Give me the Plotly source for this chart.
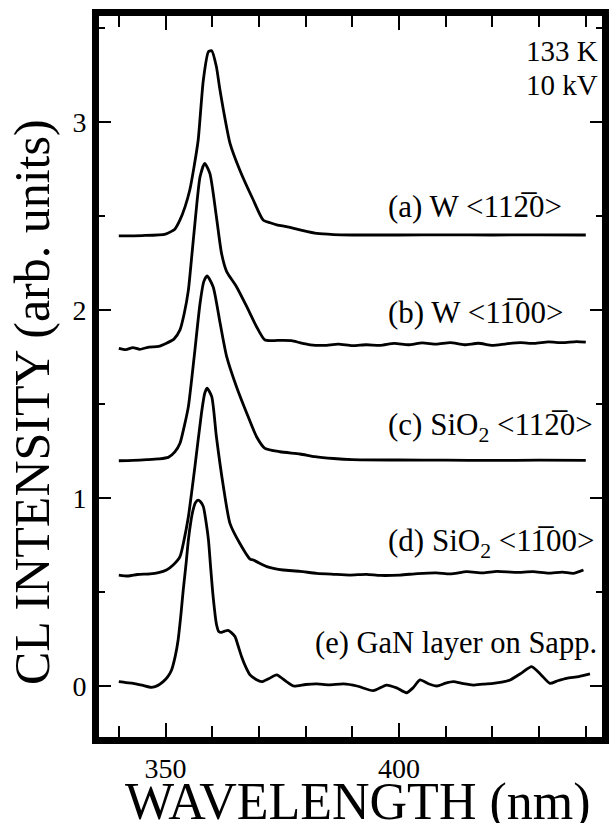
import plotly.graph_objects as go

# ---- data ----
wl_a = [340, 345, 350, 352, 353.1, 354.2, 355.2, 356.1, 357.0, 358.1, 359.2, 359.9, 360.9, 361.6,
        362.4, 363.8, 365.9, 368.8, 370.9, 372.4, 374, 375.9, 378.8, 382.4, 386, 390, 400, 410,
        420, 430, 440]
int_a = [2.394, 2.396, 2.404, 2.43, 2.479, 2.55, 2.638, 2.76, 2.904, 3.223, 3.374, 3.379, 3.294,
         3.18, 3.064, 2.888, 2.745, 2.585, 2.479, 2.464, 2.452, 2.443, 2.426, 2.407, 2.401, 2.399,
         2.399, 2.4, 2.399, 2.4, 2.399]

wl_b = [340, 341.5, 343, 344.5, 346.5, 348.5, 350.2, 351.8, 353.1, 354.0, 354.9, 355.6, 356.3,
        357.4, 358.4, 359.5, 360.9, 362.0, 363.1, 365.2, 367.4, 369.5, 371.3, 374, 377, 378.8,
        381, 384, 387, 390, 393, 396, 399, 402, 405, 408, 411, 414, 417, 420, 423, 426, 429,
        432, 435, 438, 440]
int_b = [1.796, 1.789, 1.8, 1.791, 1.803, 1.806, 1.823, 1.845, 1.894, 1.98, 2.106, 2.28, 2.461,
         2.709, 2.78, 2.727, 2.496, 2.301, 2.204, 2.124, 2.018, 1.911, 1.840, 1.838, 1.837, 1.826,
         1.815, 1.812, 1.818, 1.81, 1.815, 1.812, 1.822, 1.815, 1.825, 1.818, 1.826, 1.815, 1.823,
         1.812, 1.82, 1.826, 1.822, 1.83, 1.826, 1.832, 1.829]

wl_c = [340, 343, 346, 348.5, 350.6, 352, 353.1, 354, 354.9, 355.6, 356.3, 357.4, 358.2, 358.9,
        360.2, 361.7, 363.1, 365.2, 367.4, 369.5, 371.3, 374.5, 378.8, 382, 386, 390, 400, 410,
        420, 430, 440]
int_c = [1.198, 1.2, 1.204, 1.208, 1.216, 1.245, 1.291, 1.38, 1.486, 1.63, 1.787, 2.036, 2.151,
         2.181, 2.124, 1.929, 1.752, 1.592, 1.451, 1.326, 1.264, 1.246, 1.234, 1.22, 1.21, 1.204,
         1.202, 1.201, 1.2, 1.201, 1.2]

wl_d = [340, 342, 344, 346.7, 348.5, 350.2, 351.7, 353.1, 354, 354.9, 355.6, 356.3, 357.7, 358.4,
        358.9, 359.9, 360.9, 362.4, 363.8, 365.9, 368.1, 368.8, 371.7, 373.1, 375.2, 378.8, 382.4,
        386, 389.5, 393, 396, 400.2, 404, 408, 411, 414.5, 418, 421, 425, 428.7, 432, 435, 437.3,
        439.5]
int_d = [0.590, 0.585, 0.593, 0.596, 0.603, 0.617, 0.645, 0.688, 0.78, 0.9, 1.03, 1.167, 1.451,
         1.557, 1.584, 1.539, 1.326, 1.06, 0.865, 0.759, 0.675, 0.67, 0.635, 0.626, 0.617, 0.61,
         0.599, 0.594, 0.590, 0.594, 0.588, 0.590, 0.598, 0.602, 0.596, 0.608, 0.602, 0.61, 0.604,
         0.608, 0.6, 0.606, 0.599, 0.617]

wl_e = [340, 341.5, 343.1, 345, 347, 348.3, 349.5, 350.5, 351.3, 352.1, 352.7, 353.3, 353.8, 354.4,
        354.9, 355.4, 355.9, 356.4, 357.0, 357.5, 358.1, 358.7, 359.2, 359.7, 360.2, 360.9, 361.4,
        362.0, 362.7, 363.4, 364.1, 364.9, 365.6, 366.3, 367.2, 368.1, 369.4, 370.6, 372.2, 373.8,
        375.9, 377.4, 380, 382.4, 385, 388.1, 391, 394.5, 397.3, 399.5, 401.6, 403, 404.5, 406.3,
        408.1, 410, 411.6, 413.8, 415.9, 418, 420.2, 422, 423.8, 426.3, 428.4, 430.4, 432.3, 434,
        435.9, 438.5, 440.9]
int_e = [0.023, 0.018, 0.014, 0.004, -0.007, 0.002, 0.023, 0.05, 0.085, 0.16, 0.245, 0.38, 0.511,
         0.65, 0.777, 0.87, 0.936, 0.975, 0.989, 0.98, 0.954, 0.87, 0.777, 0.62, 0.475, 0.33, 0.29,
         0.285, 0.292, 0.296, 0.284, 0.262, 0.21, 0.156, 0.1, 0.059, 0.035, 0.023, 0.04, 0.059,
         0.023, 0.0, 0.008, 0.011, 0.006, 0.011, 0.0, -0.025, 0.005, -0.01, -0.036, -0.01, 0.032,
         0.012, 0.0, 0.015, 0.023, 0.012, 0.005, 0.01, 0.014, 0.02, 0.032, 0.07, 0.103, 0.06, 0.014,
         0.028, 0.041, 0.05, 0.064]

series = [(wl_a, int_a), (wl_b, int_b), (wl_c, int_c), (wl_d, int_d), (wl_e, int_e)]

OV = "\u0305"
labels = ["(a) W &lt;11" + "2" + OV + "0&gt;",
          "(b) W &lt;1" + "1" + OV + "00&gt;",
          "(c) SiO<sub>2</sub> &lt;11" + "2" + OV + "0&gt;",
          "(d) SiO<sub>2</sub> &lt;1" + "1" + OV + "00&gt;",
          "(e) GaN layer on Sapp."]
label_y = [2.553, 1.987, 1.378, 0.761, 0.229]
cond_text = ["133 K", "10 kV"]
cond_y = [3.375, 3.195]

x_ticks = [350, 400]
y_ticks = [0, 1, 2, 3]

FONT = "Liberation Serif"

W, H = 610, 823
ML, MR, MT, MB = 99, 8, 16, 86
PW, PH = W - ML - MR, H - MT - MB

fig = go.Figure()
for wl, val in series:
    fig.add_trace(go.Scatter(x=wl, y=val, mode="lines",
                             line=dict(color="black", width=2.8, shape="spline", smoothing=0.6),
                             showlegend=False, hoverinfo="skip"))

def tfont(size):
    return dict(family=FONT, size=size, color="black")

ann = []
for i, (t, yy) in enumerate(zip(labels, label_y)):
    if i < 4:
        ann.append(dict(x=397.2, y=yy, xref="x", yref="y", text=t, showarrow=False,
                        xanchor="left", yanchor="middle", font=tfont(31)))
    else:
        ann.append(dict(x=442.9, y=yy, xref="x", yref="y", text=t, showarrow=False,
                        xanchor="right", yanchor="middle", font=tfont(30.5)))
for t, yy in zip(cond_text, cond_y):
    ann.append(dict(x=443.0, y=yy, xref="x", yref="y", text=t, showarrow=False,
                    xanchor="right", yanchor="middle", font=tfont(29)))
# axis titles (placed in paper coordinates)
ann.append(dict(x=(358 - ML) / PW, y=-(802 - MT - PH) / PH, xref="paper", yref="paper",
                text="WAVELENGTH (nm)", showarrow=False,
                xanchor="center", yanchor="middle", font=tfont(52)))
ann.append(dict(x=(32 - ML) / PW, y=1 - (402 - MT) / PH, xref="paper", yref="paper",
                text="CL INTENSITY (arb. units)", showarrow=False, textangle=-90,
                xanchor="center", yanchor="middle", font=tfont(50)))

fig.update_layout(
    width=W, height=H,
    margin=dict(l=ML, r=MR, t=MT, b=MB, pad=0, autoexpand=False),
    paper_bgcolor="white", plot_bgcolor="white",
    font=dict(family=FONT, color="black"),
    annotations=ann,
    xaxis=dict(range=[335.76, 443.47], tickvals=x_ticks, ticktext=[str(v) for v in x_ticks],
               ticks="inside", ticklen=14, tickwidth=2, tickcolor="black",
               showline=True, linewidth=7, linecolor="black", mirror="ticks",
               showgrid=False, zeroline=False, automargin=False,
               tickfont=tfont(28),
               minor=dict(tick0=340, dtick=10, ticks="inside", ticklen=11, tickwidth=2,
                          tickcolor="black", showgrid=False)),
    yaxis=dict(range=[-0.2713, 3.5638], tickvals=y_ticks, ticktext=[str(v) for v in y_ticks],
               ticks="inside", ticklen=12, tickwidth=2, tickcolor="black",
               showline=True, linewidth=7, linecolor="black", mirror="ticks",
               showgrid=False, zeroline=False, automargin=False,
               tickfont=tfont(28),
               minor=dict(tick0=0, dtick=0.5, ticks="inside", ticklen=6, tickwidth=2,
                          tickcolor="black", showgrid=False)),
)

fig.write_html("out.html", config={"displayModeBar": False, "staticPlot": True})

# remove the browser's default page margin so the figure sits at the window's corner
with open("out.html", "r", encoding="utf-8") as f:
    html = f.read()
html = html.replace("<body>", '<body style="margin:0;padding:0;overflow:hidden">', 1)
with open("out.html", "w", encoding="utf-8") as f:
    f.write(html)
